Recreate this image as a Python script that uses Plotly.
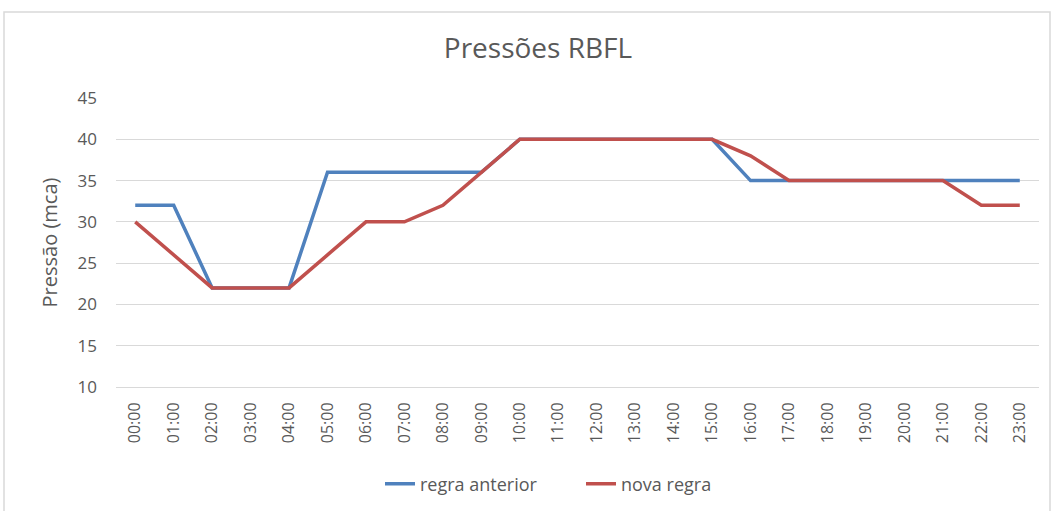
import plotly.graph_objects as go

hours = [f"{h:02d}:00" for h in range(24)]
regra_anterior = [32, 32, 22, 22, 22, 36, 36, 36, 36, 36, 40, 40, 40, 40, 40, 40, 35, 35, 35, 35, 35, 35, 35, 35]
nova_regra = [30, 26, 22, 22, 22, 26, 30, 30, 32, 36, 40, 40, 40, 40, 40, 40, 38, 35, 35, 35, 35, 35, 32, 32]
y_ticks = [10, 15, 20, 25, 30, 35, 40, 45]

W, H = 1054, 511
ml, mr, mt, mb = 116, 15, 98, 124
pw, ph = W - ml - mr, H - mt - mb

FONT = "Segoe UI, Open Sans, Liberation Sans, sans-serif"
GREY = "#595959"

fig = go.Figure()
fig.add_trace(go.Scatter(x=hours, y=regra_anterior, mode="lines", name="regra anterior",
                         line=dict(color="#4f81bd", width=3.5)))
fig.add_trace(go.Scatter(x=hours, y=nova_regra, mode="lines", name="nova regra",
                         line=dict(color="#c0504d", width=3.5)))

fig.update_layout(
    width=W, height=H,
    margin=dict(l=ml, r=mr, t=mt, b=mb, autoexpand=False),
    paper_bgcolor="white", plot_bgcolor="white",
    font=dict(family=FONT, color=GREY, size=16),
    title=dict(text="Pressões RBFL", x=538 / W, xanchor="center", y=1 - 48 / H, yanchor="middle",
               font=dict(size=28, color=GREY)),
    showlegend=True,
    legend=dict(orientation="h", x=(380 - ml) / pw, xanchor="left", y=-(484 - 387) / ph, yanchor="middle",
                font=dict(size=18, color=GREY), entrywidth=156, entrywidthmode="pixels"),
    xaxis=dict(type="category", tickangle=-90, showgrid=False, showline=True, linecolor="#d9d9d9",
               linewidth=1, ticks="", tickfont=dict(size=16, color=GREY),
               ticklabelstandoff=8, range=[-0.5, 23.5]),
    yaxis=dict(range=[10, 45], tickvals=y_ticks, showgrid=True, gridcolor="#d9d9d9", gridwidth=1,
               zeroline=False, showline=False, tickfont=dict(size=17, color=GREY),
               ticklabelstandoff=18,
               title=dict(text="Pressão (mca)", font=dict(size=20, color=GREY), standoff=14)),
    shapes=[dict(type="rect", xref="paper", yref="paper",
                 x0=(4 - ml) / pw, x1=(1050 - ml) / pw,
                 y0=-(520 - (H - mb)) / ph,
                 y1=(H - mb - 12) / ph,
                 line=dict(color="#d9d9d9", width=1.5), fillcolor="rgba(0,0,0,0)", layer="below")],
)

fig.write_html("out.html", config={"displayModeBar": False},
               post_script="document.body.style.margin='0';document.body.style.overflow='hidden';")
